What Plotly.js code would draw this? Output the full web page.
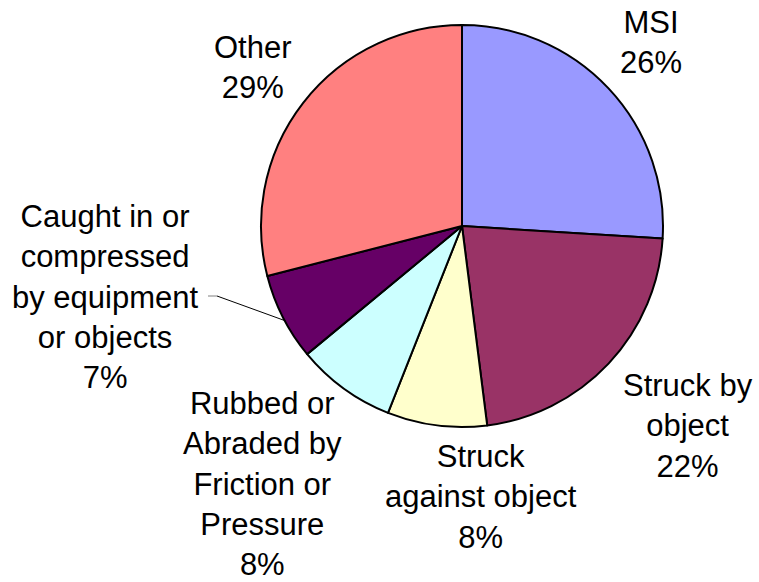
<!DOCTYPE html>
<html>
<head>
<meta charset="utf-8">
<script src="https://cdn.plot.ly/plotly-3.0.1.min.js"></script>
<style>html,body{margin:0;padding:0;background:#fff;}#chart{width:759px;height:582px;}</style>
</head>
<body>
<div id="chart"></div>
<script>
// Data
var categories = ["MSI", "Struck by object", "Struck against object", "Rubbed or Abraded by Friction or Pressure", "Caught in or compressed by equipment or objects", "Other"];
var labelLines = ["MSI", "Struck by<br>object", "Struck<br>against object", "Rubbed or<br>Abraded by<br>Friction or<br>Pressure", "Caught in or<br>compressed<br>by equipment<br>or objects", "Other"];
var values = [26, 22, 8, 8, 7, 29];
var colors = ["#9999FF", "#993366", "#FFFFCC", "#CCFFFF", "#660066", "#FF8080"];

// Layout geometry (pixels)
var W = 759, H = 582;
var cx = 462, cy = 226, R = 201;
function px(x){ return x / W; }
function py(y){ return 1 - y / H; }

// label block centres (pixels)
var labelPos = [[651, 43], [688, 426], [481, 497], [262, 484], [105, 297], [253, 67]];

var total = values.reduce(function(a,b){return a+b;}, 0);
var annotations = categories.map(function(c, i){
  var pct = Math.round(values[i] / total * 100) + "%";
  return {
    xref: "paper", yref: "paper",
    x: px(labelPos[i][0]), y: py(labelPos[i][1]),
    xanchor: "center", yanchor: "middle",
    text: labelLines[i] + "<br>" + pct,
    showarrow: false,
    align: "center",
    font: {family: "Liberation Sans, Arial, sans-serif", size: 31, color: "#000"}
  };
});

// leader line for "Caught in" slice, ending at the slice mid-angle
var cum = 0;
for (var i = 0; i < 4; i++) cum += values[i];
var midFrac = (cum + values[4] / 2) / total;
var ang = midFrac * 2 * Math.PI;
var ex = cx + R * 0.985 * Math.sin(ang), ey = cy - R * 0.985 * Math.cos(ang) + 5;
var shapes = [
  {type: "line", xref: "paper", yref: "paper", x0: px(208), y0: py(296), x1: px(217), y1: py(296), line: {color: "#808080", width: 1}},
  {type: "line", xref: "paper", yref: "paper", x0: px(217), y0: py(296), x1: px(ex), y1: py(ey), line: {color: "#000", width: 1}}
];

var trace = {
  type: "pie",
  labels: categories,
  values: values,
  sort: false,
  direction: "clockwise",
  rotation: 0,
  textinfo: "none",
  hoverinfo: "label+percent",
  marker: {colors: colors, line: {color: "#000", width: 2}},
  domain: {x: [px(cx - R), px(cx + R)], y: [py(cy + R), py(cy - R)]}
};

var layout = {
  width: W, height: H,
  margin: {l: 0, r: 0, t: 0, b: 0},
  paper_bgcolor: "#fff",
  showlegend: false,
  annotations: annotations,
  shapes: shapes
};

Plotly.newPlot("chart", [trace], layout, {displayModeBar: false, staticPlot: true});
</script>
</body>
</html>
